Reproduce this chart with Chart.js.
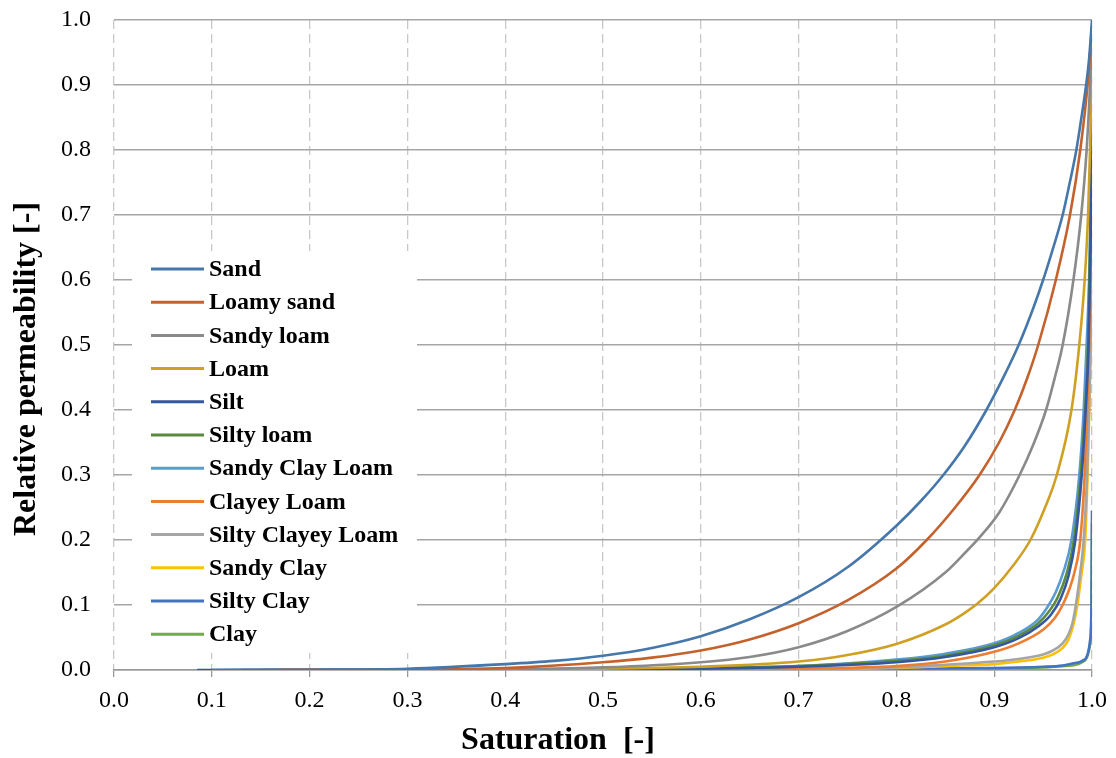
<!DOCTYPE html>
<html>
<head>
<meta charset="utf-8">
<script src="https://cdn.jsdelivr.net/npm/chart.js@4.4.1/dist/chart.umd.min.js"></script>
<style>
  html, body { margin: 0; padding: 0; background: #ffffff; }
  #wrap { width: 1116px; height: 758px; position: relative; }
</style>
</head>
<body>
<div id="wrap"><canvas id="c" width="1116" height="758"></canvas></div>
<script>
// ---- data ----
const seriesNames = ["Sand", "Loamy sand", "Sandy loam", "Loam", "Silt", "Silty loam",
  "Sandy Clay Loam", "Clayey Loam", "Silty Clayey Loam", "Sandy Clay", "Silty Clay", "Clay"];

const satSand = [0.10, 0.20, 0.30, 0.40, 0.45, 0.50, 0.55, 0.60, 0.65, 0.70, 0.75, 0.80, 0.825, 0.848, 0.87, 0.892, 0.91, 0.925, 0.94, 0.95, 0.96, 0.97, 0.977, 0.984, 0.989, 0.994, 0.997, 1.0];
const krSand  = [0.0, 0.0005, 0.002, 0.009, 0.014, 0.022, 0.034, 0.052, 0.078, 0.112, 0.158, 0.222, 0.260, 0.300, 0.345, 0.400, 0.452, 0.500, 0.557, 0.600, 0.648, 0.700, 0.748, 0.800, 0.848, 0.900, 0.940, 1.0];

const satLoamySand = [0.13, 0.30, 0.40, 0.50, 0.55, 0.60, 0.65, 0.70, 0.75, 0.80, 0.831, 0.86, 0.885, 0.905, 0.921, 0.934, 0.945, 0.963, 0.9775, 0.988, 0.9955, 1.0];
const krLoamySand  = [0.0, 0.0005, 0.003, 0.012, 0.019, 0.030, 0.047, 0.072, 0.107, 0.156, 0.200, 0.250, 0.300, 0.350, 0.400, 0.450, 0.500, 0.600, 0.700, 0.800, 0.900, 0.990];

const satSandyLoam = [0.15, 0.40, 0.50, 0.60, 0.65, 0.70, 0.75, 0.80, 0.85, 0.87, 0.885, 0.905, 0.926, 0.94, 0.953, 0.962, 0.970, 0.981, 0.989, 0.9945, 0.998, 1.0];
const krSandyLoam  = [0.0, 0.001, 0.004, 0.012, 0.020, 0.035, 0.060, 0.097, 0.150, 0.180, 0.204, 0.242, 0.300, 0.347, 0.400, 0.450, 0.500, 0.600, 0.700, 0.800, 0.900, 0.978];

const satLoam = [0.17, 0.50, 0.60, 0.70, 0.75, 0.80, 0.85, 0.87, 0.882, 0.90, 0.92, 0.937, 0.952, 0.964, 0.979, 0.987, 0.9925, 0.996, 0.998, 1.0];
const krLoam  = [0.0, 0.002, 0.005, 0.013, 0.023, 0.040, 0.070, 0.088, 0.101, 0.126, 0.162, 0.200, 0.250, 0.300, 0.400, 0.500, 0.600, 0.700, 0.800, 0.930];

const satSilt = [0.085, 0.50, 0.60, 0.70, 0.80, 0.85, 0.90, 0.925, 0.945, 0.958, 0.968, 0.976, 0.983, 0.9895, 0.9935, 0.9965, 0.9985, 1.0];
const krSilt  = [0.0, 0.001, 0.002, 0.005, 0.012, 0.020, 0.035, 0.049, 0.067, 0.085, 0.110, 0.145, 0.200, 0.300, 0.400, 0.500, 0.650, 0.840];

const satSiltyLoam = [0.155, 0.50, 0.60, 0.70, 0.80, 0.85, 0.90, 0.925, 0.945, 0.955, 0.965, 0.974, 0.9815, 0.9885, 0.993, 0.996, 0.998, 1.0];
const krSiltyLoam  = [0.0, 0.001, 0.003, 0.006, 0.014, 0.022, 0.038, 0.053, 0.072, 0.088, 0.112, 0.148, 0.200, 0.300, 0.400, 0.500, 0.650, 0.850];

const satSandyClayLoam = [0.24, 0.50, 0.60, 0.70, 0.80, 0.85, 0.90, 0.925, 0.945, 0.955, 0.963, 0.971, 0.979, 0.987, 0.9915, 0.9945, 0.997, 0.9985, 1.0];
const krSandyClayLoam  = [0.0, 0.001, 0.003, 0.006, 0.016, 0.025, 0.041, 0.057, 0.078, 0.098, 0.120, 0.152, 0.200, 0.300, 0.400, 0.500, 0.600, 0.700, 0.838];

const satClayeyLoam = [0.25, 0.60, 0.70, 0.80, 0.85, 0.90, 0.925, 0.95, 0.962, 0.97, 0.977, 0.982, 0.988, 0.9925, 0.995, 0.997, 0.9985, 1.0];
const krClayeyLoam  = [0.0, 0.001, 0.002, 0.006, 0.013, 0.028, 0.041, 0.062, 0.080, 0.100, 0.125, 0.150, 0.200, 0.300, 0.400, 0.500, 0.600, 0.733];

const satSiltyClayeyLoam = [0.263, 0.70, 0.80, 0.85, 0.90, 0.925, 0.95, 0.96, 0.97, 0.976, 0.98, 0.9835, 0.988, 0.9915, 0.995, 0.997, 0.9985, 1.0];
const krSiltyClayeyLoam  = [0.0, 0.001, 0.004, 0.008, 0.013, 0.017, 0.024, 0.030, 0.041, 0.055, 0.072, 0.100, 0.150, 0.200, 0.300, 0.400, 0.500, 0.633];

const satSandyClay = [0.305, 0.70, 0.80, 0.85, 0.90, 0.925, 0.95, 0.96, 0.97, 0.976, 0.981, 0.985, 0.989, 0.993, 0.9955, 0.9972, 0.9988, 1.0];
const krSandyClay  = [0.0, 0.001, 0.003, 0.006, 0.009, 0.013, 0.019, 0.024, 0.034, 0.047, 0.070, 0.100, 0.145, 0.200, 0.300, 0.400, 0.500, 0.555];

const satSiltyClay = [0.48, 0.90, 0.95, 0.97, 0.98, 0.99, 0.995, 0.998, 0.9995, 1.0];
const krSiltyClay  = [0.0, 0.003, 0.005, 0.007, 0.010, 0.014, 0.022, 0.045, 0.100, 0.245];

const satClay = [0.475, 0.90, 0.95, 0.97, 0.98, 0.99, 0.995, 0.998, 0.9995, 1.0];
const krClay  = [0.0, 0.0025, 0.004, 0.006, 0.007, 0.012, 0.020, 0.040, 0.090, 0.226];

const xTickValues = [0.0, 0.1, 0.2, 0.3, 0.4, 0.5, 0.6, 0.7, 0.8, 0.9, 1.0];
const yTickValues = [0.0, 0.1, 0.2, 0.3, 0.4, 0.5, 0.6, 0.7, 0.8, 0.9, 1.0];
const xTitle = "Saturation  [-]";
const yTitle = "Relative permeability [-]";

// ---- styling ----
const seriesColors = ["#4677AA", "#C4622D", "#8A8A8A", "#CFA023", "#3457A0", "#5B8A3C",
  "#5B9BD5", "#ED7D31", "#A5A5A5", "#FFC000", "#4472C4", "#70AD47"];
const FONT = "'Liberation Serif', 'Times New Roman', serif";

const satList = [satSand, satLoamySand, satSandyLoam, satLoam, satSilt, satSiltyLoam,
  satSandyClayLoam, satClayeyLoam, satSiltyClayeyLoam, satSandyClay, satSiltyClay, satClay];
const krList = [krSand, krLoamySand, krSandyLoam, krLoam, krSilt, krSiltyLoam,
  krSandyClayLoam, krClayeyLoam, krSiltyClayeyLoam, krSandyClay, krSiltyClay, krClay];

const datasets = seriesNames.map((name, i) => ({
  label: name,
  data: satList[i].map((s, j) => ({ x: s, y: krList[i][j] })),
  borderColor: seriesColors[i],
  backgroundColor: seriesColors[i],
  borderWidth: 2.6,
  pointRadius: 0,
  pointHoverRadius: 0,
  fill: false,
  cubicInterpolationMode: 'monotone'
}));

const legendInside = {
  id: 'legendInside',
  afterDatasetsDraw(chart) {
    const ctx = chart.ctx;
    ctx.save();
    ctx.fillStyle = '#ffffff';
    ctx.fillRect(132, 251, 285, 402);
    ctx.font = "bold 24px " + FONT;
    ctx.textBaseline = 'middle';
    ctx.textAlign = 'left';
    chart.data.datasets.forEach((ds, i) => {
      const y = 269 + i * 33.2;
      ctx.strokeStyle = ds.borderColor;
      ctx.lineWidth = 3;
      ctx.beginPath();
      ctx.moveTo(151, y);
      ctx.lineTo(204, y);
      ctx.stroke();
      ctx.fillStyle = '#000000';
      ctx.fillText(ds.label, 209, y + 1);
    });
    ctx.restore();
  }
};

const axisTitles = {
  id: 'axisTitles',
  afterDraw(chart) {
    const ctx = chart.ctx;
    ctx.save();
    ctx.fillStyle = '#000000';
    ctx.font = "bold 32px " + FONT;
    ctx.textAlign = 'center';
    ctx.textBaseline = 'middle';
    ctx.fillText(xTitle, 558, 741);
    ctx.translate(27, 369);
    ctx.rotate(-Math.PI / 2);
    ctx.fillText(yTitle, 0, 0);
    ctx.restore();
  }
};

function zeroPad(scale) {
  scale.paddingTop = 0; scale.paddingBottom = 0;
  scale.paddingLeft = 0; scale.paddingRight = 0;
}

new Chart(document.getElementById('c'), {
  type: 'line',
  data: { datasets },
  options: {
    responsive: false,
    animation: false,
    events: [],
    layout: { autoPadding: false, padding: { left: 0, right: 24, top: 20, bottom: 0 } },
    plugins: { legend: { display: false }, tooltip: { enabled: false }, title: { display: false } },
    scales: {
      x: {
        type: 'linear',
        min: 0, max: 1,
        afterFit(scale) { scale.height = 88; zeroPad(scale); },
        afterBuildTicks(scale) { scale.ticks = xTickValues.map(v => ({ value: v })); },
        ticks: {
          color: '#000000',
          font: { family: FONT, size: 24 },
          padding: 9,
          maxRotation: 0,
          callback: v => Number(v).toFixed(1)
        },
        grid: {
          color: '#C8C8C8',
          lineWidth: 1.3,
          drawTicks: true,
          tickLength: 7,
          tickColor: '#999999',
          tickBorderDash: [],
          tickWidth: 1.3
        },
        border: { display: true, color: '#999999', width: 1.6, dash: [9, 5] }
      },
      y: {
        type: 'linear',
        min: 0, max: 1,
        afterFit(scale) { scale.width = 114; zeroPad(scale); },
        afterBuildTicks(scale) { scale.ticks = yTickValues.map(v => ({ value: v })); },
        ticks: {
          color: '#000000',
          font: { family: FONT, size: 24 },
          padding: 23,
          callback: v => Number(v).toFixed(1)
        },
        grid: {
          color: '#A6A6A6',
          lineWidth: 1.4,
          drawTicks: false
        },
        border: { display: false }
      }
    }
  },
  plugins: [legendInside, axisTitles]
});
</script>
</body>
</html>
